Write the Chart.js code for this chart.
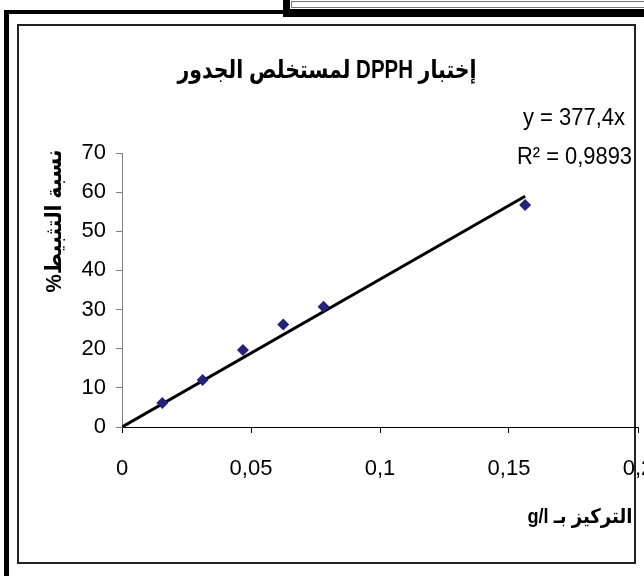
<!DOCTYPE html>
<html><head><meta charset="utf-8">
<script src="https://cdn.jsdelivr.net/npm/chart.js@4/dist/chart.umd.min.js"></script>
<style>html,body{margin:0;padding:0;background:#fff;overflow:hidden}canvas{display:block}</style>
</head><body><canvas id="c" width="644" height="576"></canvas>
<script>
// concentration g/l and inhibition %
var concentrations = [0.015625, 0.03125, 0.046875, 0.0625, 0.078125, 0.15625];
var inhibition = [6.1, 12.0, 19.7, 26.2, 30.7, 56.7];
var trendSlope = 377.4;
var trendR2 = 0.9893;
var xRange = [0, 0.2, 0.05];
var yRange = [0, 70, 10];
var chartTitle = 'إختبار DPPH لمستخلص الجدور';
var xTitle = 'التركيز بـ g/l';
var yTitle = 'نسبة التثبيط%';

function comma(v) {
    return String(Math.round(v * 10000) / 10000).replace('.', ',');
}

var points = concentrations.map(function (x, i) { return {x: x, y: inhibition[i]}; });
var maxX = Math.max.apply(null, concentrations);
var trend = [{x: 0, y: 0}, {x: maxX, y: trendSlope * maxX}];

// text squeezed/stretched to a given width
function fitText(ctx, text, cx, cy, w, font, rtl, rot) {
    ctx.save();
    ctx.font = font;
    ctx.direction = rtl ? 'rtl' : 'ltr';
    ctx.textAlign = 'center';
    ctx.textBaseline = 'middle';
    ctx.fillStyle = '#000';
    var m = ctx.measureText(text).width;
    ctx.translate(cx, cy);
    if (rot) ctx.rotate(rot);
    ctx.scale(w / m, 1);
    ctx.fillText(text, 0, 0);
    ctx.restore();
}

var decor = {
    id: 'decor',
    beforeDraw: function (chart) {
        var ctx = chart.ctx;
        ctx.save();
        ctx.fillStyle = '#fff';
        ctx.fillRect(0, 0, chart.width, chart.height);
        ctx.fillStyle = '#000';
        // outer thick frame (left + top)
        ctx.fillRect(4, 10, 5, 566);
        ctx.fillRect(4, 10, 282, 4);
        // box at top right
        ctx.fillRect(283, 0, 7, 17);
        ctx.fillRect(283, 9, 361, 8);
        ctx.strokeStyle = '#777';
        ctx.lineWidth = 1;
        ctx.strokeRect(291.5, 1.5, 360, 6);
        // inner chart border
        ctx.strokeStyle = '#222';
        ctx.lineWidth = 2;
        ctx.strokeRect(18, 25, 617, 538);
        ctx.restore();
    },
    afterDraw: function (chart) {
        var ctx = chart.ctx;
        fitText(ctx, chartTitle, 327, 71, 299, 'bold 25px "Liberation Sans", "DejaVu Sans"', true);
        fitText(ctx, yTitle, 55, 221, 143, 'bold 22px "Liberation Sans", "DejaVu Sans"', true, -Math.PI / 2);
        fitText(ctx, xTitle, 580, 517, 105, 'bold 20px "Liberation Sans", "DejaVu Sans"', true);
        fitText(ctx, 'y = ' + comma(trendSlope) + 'x', 574, 118, 102, '24px "Liberation Sans"', false);
        fitText(ctx, 'R\u00B2 = ' + comma(trendR2), 574.5, 157, 115, '24px "Liberation Sans"', false);
    }
};

new Chart(document.getElementById('c'), {
    type: 'scatter',
    data: {
        datasets: [{
            data: points,
            pointStyle: 'rectRot',
            pointRadius: 6,
            backgroundColor: '#23237a',
            borderColor: '#23237a',
            borderWidth: 0
        }, {
            data: trend,
            showLine: true,
            pointRadius: 0,
            borderColor: '#000',
            borderWidth: 3
        }]
    },
    options: {
        responsive: false,
        animation: false,
        events: [],
        layout: {padding: {left: 0, top: 153, right: 4, bottom: 0}},
        plugins: {legend: {display: false}, tooltip: {enabled: false}},
        scales: {
            x: {
                type: 'linear',
                min: xRange[0], max: xRange[1],
                afterFit: function (s) { s.height = 149; s.paddingLeft = 0; s.paddingRight = 0; },
                ticks: {
                    stepSize: xRange[2], padding: 23, color: '#000', maxRotation: 0,
                    font: {family: '"Liberation Sans"', size: 22},
                    callback: function (v) { return comma(v); }
                },
                grid: {drawOnChartArea: false, tickLength: 6, color: '#000'},
                border: {color: '#000', width: 1}
            },
            y: {
                type: 'linear',
                min: yRange[0], max: yRange[1],
                afterFit: function (s) { s.width = 122; s.paddingTop = 0; s.paddingBottom = 0; },
                ticks: {
                    stepSize: yRange[2], padding: 10, color: '#000',
                    font: {family: '"Liberation Sans"', size: 22},
                    callback: function (v) { return comma(v); }
                },
                grid: {drawOnChartArea: false, tickLength: 6, color: '#808080'},
                border: {color: '#808080', width: 1}
            }
        }
    },
    plugins: [decor]
});
</script></body></html>
